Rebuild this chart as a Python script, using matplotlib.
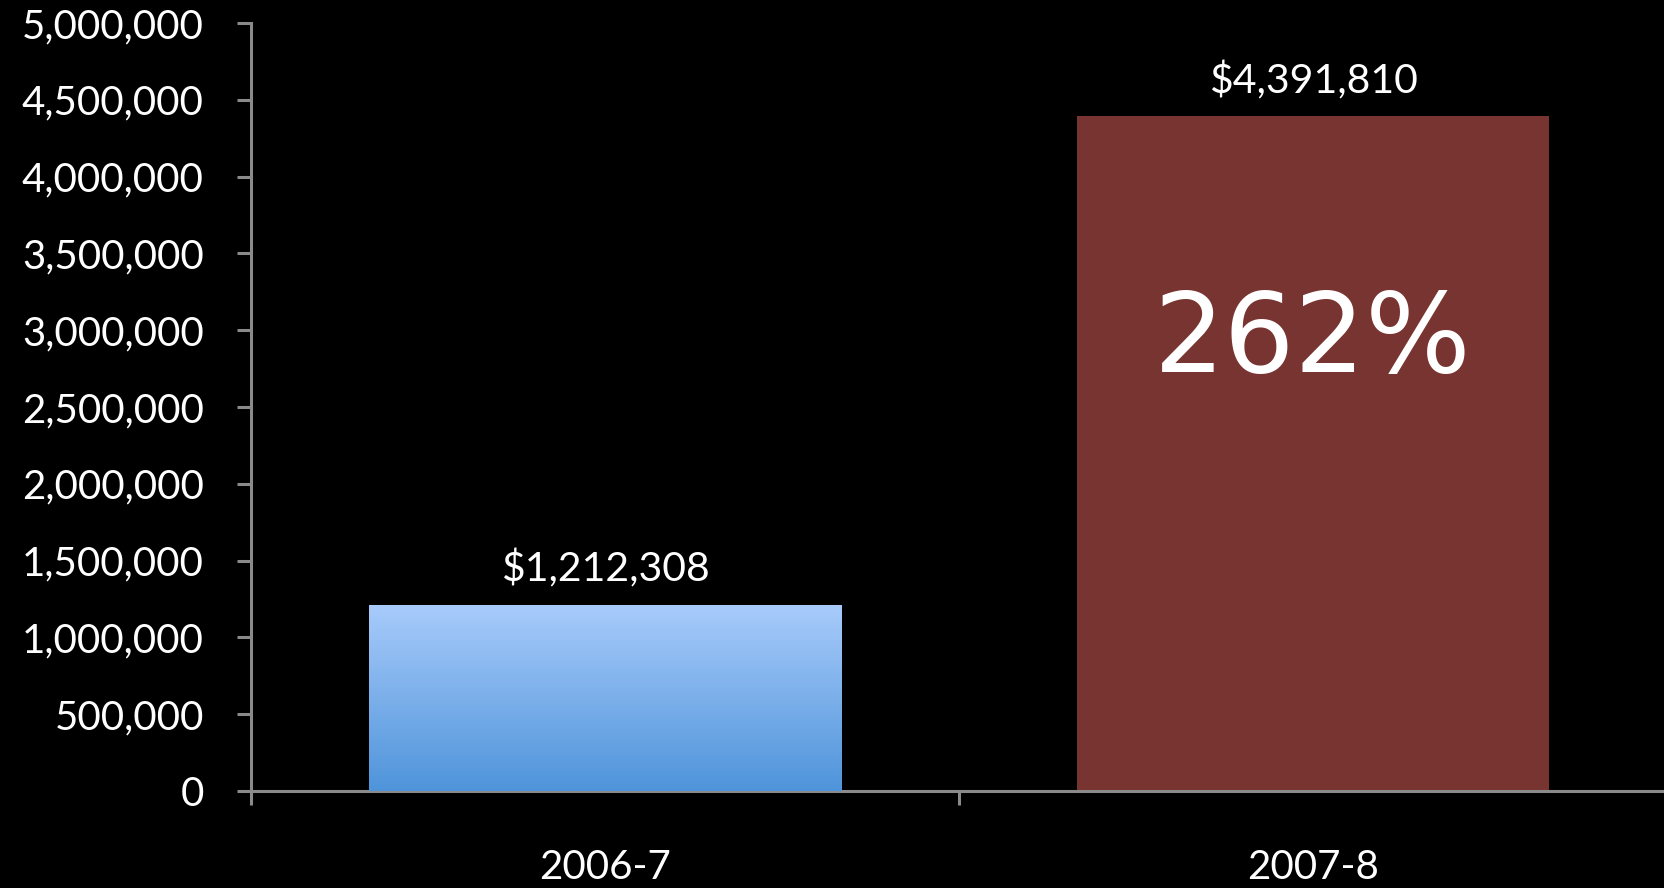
import matplotlib
matplotlib.use("Agg")
import matplotlib.pyplot as plt
import matplotlib.transforms as mtransforms
import numpy as np
from matplotlib.ticker import FuncFormatter, MultipleLocator, FixedLocator

categories = ["2006-7", "2007-8"]
values = [1212308, 4391810]
value_labels = ["$1,212,308", "$4,391,810"]
callout = "262%"

DPI = 100
fig = plt.figure(figsize=(16.65, 8.88), dpi=DPI, facecolor="black")
ax = fig.add_axes([251/1665, 97/888, (1667-251)/1665, (791-23)/888])
ax.set_facecolor("black")

axis_color = "#8a8a8a"
text_color = "#ffffff"
font = "Lato"

x = np.arange(len(categories))
bars = ax.bar(x, values, width=0.667, color=["#5096dc", "#783430"], zorder=2)

# gradient on first bar
b0 = bars[0]
grad = np.linspace(0, 1, 256).reshape(-1, 1)
top = np.array([168, 203, 251]) / 255
bot = np.array([79, 148, 218]) / 255
img = top[None, None, :] * (1 - grad[:, :, None]) + bot[None, None, :] * grad[:, :, None]
im = ax.imshow(img, extent=[b0.get_x(), b0.get_x() + b0.get_width(), 0, b0.get_height()],
               aspect="auto", zorder=3, origin="upper")
im.set_clip_path(b0)

ax.set_xlim(-0.5, 1.5)
ax.set_ylim(0, 5000000)

for s in ["top", "right"]:
    ax.spines[s].set_visible(False)
for s in ["left", "bottom"]:
    ax.spines[s].set_color(axis_color)
    ax.spines[s].set_linewidth(2.2)

ax.yaxis.set_major_locator(MultipleLocator(500000))
ax.yaxis.set_major_formatter(FuncFormatter(lambda v, p: f"{int(v):,}"))
ax.tick_params(axis="y", which="major", direction="out", length=10, width=2.2,
               color=axis_color, labelcolor=text_color, labelsize=29, pad=24)

ax.set_xticks(x)
ax.set_xticklabels(categories)
ax.xaxis.set_minor_locator(FixedLocator([-0.5, 0.5, 1.5]))
ax.tick_params(axis="x", which="major", length=0, labelcolor=text_color,
               labelsize=29, pad=42)
ax.tick_params(axis="x", which="minor", direction="out", length=10, width=2.2,
               color=axis_color)

for lbl in ax.get_xticklabels() + ax.get_yticklabels():
    lbl.set_fontfamily(font)

for i, (v, t) in enumerate(zip(values, value_labels)):
    ax.annotate(t, (x[i], v), xytext=(0, 16.5), textcoords="offset points",
                ha="center", va="baseline", color=text_color, fontsize=29.5,
                fontfamily=font)

trans = mtransforms.blended_transform_factory(ax.transData, ax.transAxes)
ax.text(x[1], 0.585, callout, transform=trans, ha="center", va="center",
        color="white", fontsize=80, fontfamily="DejaVu Sans", zorder=5)

fig.savefig("out.png", dpi=DPI, facecolor="black")
